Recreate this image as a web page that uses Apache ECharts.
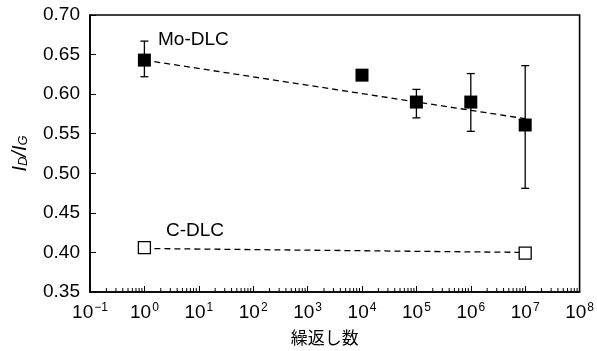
<!DOCTYPE html>
<html><head><meta charset="utf-8">
<script src="https://cdn.jsdelivr.net/npm/echarts@6/dist/echarts.min.js"></script>
<style>html,body{margin:0;padding:0;background:#fff}#c{width:597px;height:351px}</style>
</head><body><div id="c"></div>
<script>
const moX = [1, 1e4, 1e5, 1e6, 1e7];
const moY = [0.643, 0.624, 0.590, 0.590, 0.561];
const moLow = [0.622, null, 0.570, 0.553, 0.481];
const moHigh = [0.667, null, 0.606, 0.626, 0.636];
const cX = [1, 1e7];
const cY = [0.406, 0.399];
const moFitX = [1, 1e7];
const moFitY = [0.643, 0.569];
const cFitX = [1, 1e7];
const cFitY = [0.405, 0.400];
const xTickExps = [-1, 0, 1, 2, 3, 4, 5, 6, 7, 8];
const yTicks = [0.35, 0.40, 0.45, 0.50, 0.55, 0.60, 0.65, 0.70];

const minorVals = [];
for (let n = -1; n < 8; n++) for (let k = 2; k <= 9; k++) minorVals.push([k * Math.pow(10, n), 0.35]);

const font = 'Liberation Sans, Arial, sans-serif';
const chart = echarts.init(document.getElementById('c'));
chart.setOption({
  animation: false,
  grid: { left: 90, right: 17, top: 15, bottom: 56, show: true, borderColor: '#000', borderWidth: 1.6 },
  xAxis: {
    type: 'log', logBase: 10, min: 0.1, max: 1e8, interval: 1,
    axisLine: { lineStyle: { color: '#000', width: 1.6 } },
    axisTick: { inside: true, length: 6, lineStyle: { color: '#000' } },
    splitLine: { show: false },
    axisLabel: {
      margin: 10, color: '#000', fontFamily: font, fontSize: 19,
      formatter: function (v) {
        const e = Math.round(Math.log10(v));
        if (xTickExps.indexOf(e) < 0) return '';
        return '{b|10}{s|' + (e < 0 ? '−' + (-e) : e) + '}';
      },
      rich: {
        b: { fontSize: 19, fontFamily: font, color: '#000' },
        s: { fontSize: 12, fontFamily: font, color: '#000', padding: [0, 0, 9, 1] }
      }
    },
    name: '繰返し数', nameLocation: 'middle', nameGap: 37,
    nameTextStyle: { fontSize: 17, color: '#000', fontFamily: 'Noto Sans CJK JP', padding: [0, 20, 0, 0] }
  },
  yAxis: {
    type: 'value', min: 0.35, max: 0.70, interval: 0.05,
    axisLine: { lineStyle: { color: '#000', width: 1.6 } },
    axisTick: { inside: true, length: 6, lineStyle: { color: '#000' } },
    splitLine: { show: false },
    axisLabel: { color: '#000', fontFamily: font, fontSize: 19, margin: 10,
      formatter: v => { const t = yTicks.find(y => Math.abs(y - v) < 1e-6); return t === undefined ? '' : t.toFixed(2); } },
    name: '{i|I}{sub|D}{i|/I}{sub|G}', nameLocation: 'middle', nameGap: 60, nameRotate: 90,
    nameTextStyle: {
      rich: {
        i: { fontSize: 20, fontStyle: 'italic', fontFamily: font, color: '#000' },
        sub: { fontSize: 13, fontStyle: 'italic', fontFamily: font, color: '#000', padding: [7, 0, 0, 0] }
      }
    }
  },
  graphic: [
    { type: 'text', left: 158, top: 30, style: { text: 'Mo-DLC', fontSize: 19, fontFamily: font, fill: '#000' } },
    { type: 'text', left: 166, top: 221, style: { text: 'C-DLC', fontSize: 19, fontFamily: font, fill: '#000' } }
  ],
  series: [
    { type: 'custom', silent: true, data: minorVals, z: 1,
      renderItem: function (params, api) {
        const p = api.coord([api.value(0), api.value(1)]);
        return { type: 'line', shape: { x1: p[0], y1: p[1], x2: p[0], y2: p[1] - 4 }, style: { stroke: '#000', lineWidth: 1 } };
      } },
    { type: 'line', data: moFitX.map((x, i) => [x, moFitY[i]]), symbol: 'none', z: 2,
      lineStyle: { color: '#000', width: 1.3, type: [6, 4] } },
    { type: 'line', data: cFitX.map((x, i) => [x, cFitY[i]]), symbol: 'none', z: 2,
      lineStyle: { color: '#000', width: 1.3, type: [6, 4] } },
    { type: 'custom', silent: true, z: 3,
      data: moX.map((x, i) => [x, moLow[i], moHigh[i]]).filter(d => d[1] !== null),
      renderItem: function (params, api) {
        const lo = api.coord([api.value(0), api.value(1)]);
        const hi = api.coord([api.value(0), api.value(2)]);
        const w = 4;
        const st = { stroke: '#000', lineWidth: 1.3 };
        return { type: 'group', children: [
          { type: 'line', shape: { x1: lo[0], y1: lo[1], x2: hi[0], y2: hi[1] }, style: st },
          { type: 'line', shape: { x1: lo[0] - w, y1: lo[1], x2: lo[0] + w, y2: lo[1] }, style: st },
          { type: 'line', shape: { x1: hi[0] - w, y1: hi[1], x2: hi[0] + w, y2: hi[1] }, style: st }
        ] };
      } },
    { type: 'scatter', data: moX.map((x, i) => [x, moY[i]]), symbol: 'rect', symbolSize: 13, z: 4,
      itemStyle: { color: '#000', opacity: 1 } },
    { type: 'scatter', data: cX.map((x, i) => [x, cY[i]]), symbol: 'rect', symbolSize: 12, z: 4,
      itemStyle: { color: '#fff', borderColor: '#000', borderWidth: 1.3, opacity: 1 } }
  ]
});
</script></body></html>
